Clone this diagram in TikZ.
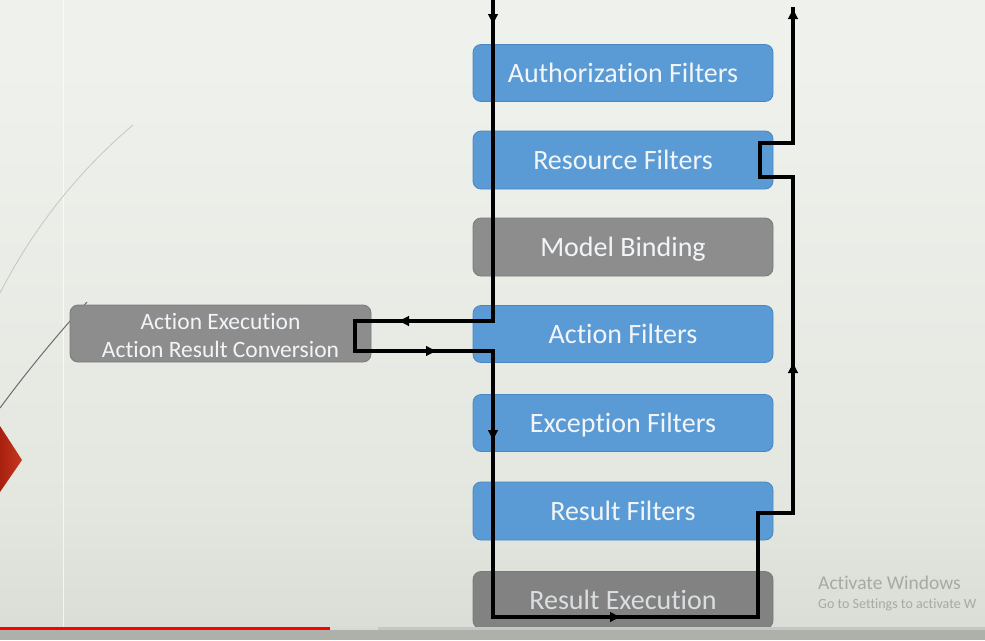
\documentclass[tikz,border=0pt]{standalone}
\usepackage{fontspec}
\setmainfont{Carlito}[Ligatures=NoCommon]
\usetikzlibrary{arrows.meta}
\definecolor{bgtop}{HTML}{EFF2EC}
\definecolor{bgmid}{HTML}{E3E7E0}
\definecolor{bglow}{HTML}{D0D4CC}
\definecolor{bgbot}{HTML}{BBBFB6}
\definecolor{bluefill}{HTML}{5B9BD5}
\definecolor{bluedge}{HTML}{4A86C0}
\definecolor{grayfill}{HTML}{8D8D8D}
\definecolor{grayedge}{HTML}{7A7A7A}
\definecolor{boxtext}{HTML}{F2F5F8}
\definecolor{wmark}{HTML}{A6AAA2}
\definecolor{curvelight}{HTML}{C4C8C0}
\definecolor{diamred}{HTML}{A8200F}
\definecolor{diamred2}{HTML}{C8381F}
\definecolor{bandgray}{HTML}{ADB1A9}
\pgfdeclareverticalshading{bgshade}{100bp}{color(0bp)=(bgbot); color(15bp)=(bglow); color(35bp)=(bgmid); color(70bp)=(bgtop); color(100bp)=(bgtop)}
\tikzset{
  blu/.style={draw=bluedge, fill=bluefill, line width=0.8pt, rounded corners=8pt,
    minimum width=300pt, minimum height=57pt, text=boxtext, inner sep=0pt,
    font=\fontsize{28}{33}\selectfont, text height=18pt, text depth=0pt},
  gry/.style={blu, fill=grayfill, draw=grayedge},
  lbl/.style={text=boxtext, inner sep=0pt, align=center, font=\fontsize{23.5}{28.5}\selectfont},
  flow/.style={line width=3.2pt, black, line join=miter},
  tipa/.style={-{Latex[length=12pt,width=11pt]}},
  wm/.style={text=wmark, inner sep=0pt, anchor=base west}
}
\begin{document}
\begin{tikzpicture}[x=1pt,y=-1pt]
\useasboundingbox (0,0) rectangle (985,640);
\clip (0,0) rectangle (985,640);
% background
\shade[shading=bgshade] (0,0) rectangle (985,628);
\draw[white, opacity=0.7, line width=0.8pt] (63,0) -- (63,628);
\draw[curvelight, line width=0.8pt] (0,293) .. controls (35,225) and (80,170) .. (133,125);
\draw[gray!85!black, line width=1pt] (0,408) .. controls (28,370) and (58,334) .. (87,302);
\shade[left color=diamred, right color=diamred2] (0,426) -- (22,460) -- (0,492) -- cycle;
% boxes
\node[blu] (auth) at (623,73) {Authorization Filters};
\node[blu, minimum height=58pt] (res) at (623,160) {Resource Filters};
\node[gry, minimum height=58pt] (model) at (623,247) {Model Binding};
\node[blu] (actf) at (623,334) {Action Filters};
\node[blu] (exc) at (623,423) {Exception Filters};
\node[blu, minimum height=58pt] (resf) at (623,511) {Result Filters};
\node[gry, fill=grayfill!92!black, text=boxtext!80!gray] (rexe) at (623,600) {Result Execution};
\node[gry, minimum width=301pt] (exec) at (220.5,333.5) {};
\node[lbl] (execlbl) at ([yshift=-2pt]exec.center) {Action Execution\\Action Result Conversion};
% flow coordinates
\coordinate (p0) at (493,0);
\coordinate (p1) at (493,321);
\coordinate (p2) at (355,321);
\coordinate (p3) at (355,351);
\coordinate (p4) at (493,351);
\coordinate (p5) at (493,617);
\coordinate (p6) at (758,617);
\coordinate (p7) at (758,513);
\coordinate (p8) at (793,513);
\coordinate (p9) at (793,177);
\coordinate (p10) at (760,177);
\coordinate (p11) at (760,143);
\coordinate (p12) at (793,143);
\coordinate (p13) at (793,7);
\coordinate (a1) at (493,26);
\coordinate (a2) at (397,321);
\coordinate (a3) at (438,351);
\coordinate (a4) at (493,442);
\coordinate (a5) at (622,617);
\coordinate (a6) at (793,361);
\draw[flow] (p0) -- (p1) -- (p2) -- (p3) -- (p4) -- (p5) -- (p6) -- (p7) -- (p8) -- (p9) -- (p10) -- (p11) -- (p12) -- (p13);
\draw[flow, tipa] (p0) -- (a1);
\draw[flow, tipa] (p1) -- (a2);
\draw[flow, tipa] (p3) -- (a3);
\draw[flow, tipa] (p4) -- (a4);
\draw[flow, tipa] (p5) -- (a5);
\draw[flow, tipa] (p8) -- (a6);
\draw[flow, tipa] (p12) -- (p13);
% watermark
\node[wm, font=\fontsize{19.5}{22}\selectfont] (wm1) at (818,589) {Activate Windows};
\node[wm, font=\fontsize{14}{16}\selectfont] (wm2) at (818,608) {Go to Settings to activate W};
% bottom bar
\fill[bandgray] (0,629) rectangle (985,640);
\draw[red, line width=3pt] (0,628) -- (330,628);
\draw[gray!30, line width=3pt] (330,628) -- (378,628);
\draw[gray!45, line width=3pt] (378,628) -- (985,628);
\end{tikzpicture}
\end{document}
